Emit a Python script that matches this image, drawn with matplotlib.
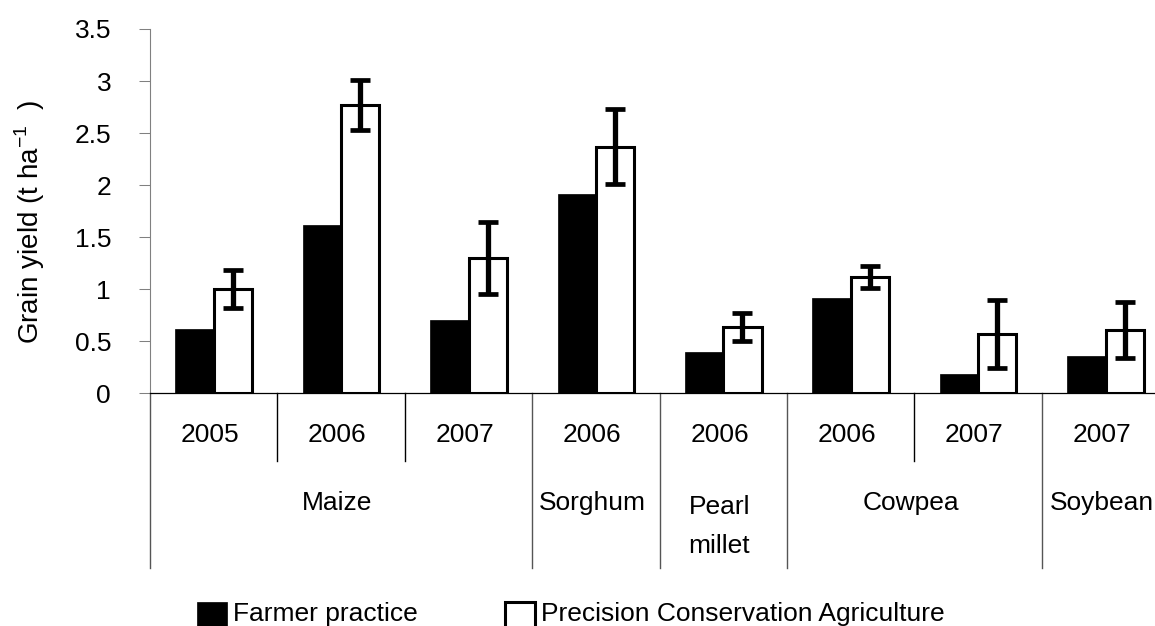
import matplotlib
matplotlib.use('Agg')
import matplotlib.pyplot as plt
import numpy as np
from matplotlib.transforms import blended_transform_factory
from matplotlib.patches import Patch, Rectangle
from matplotlib.legend_handler import HandlerPatch

plt.rcParams['font.family'] = ['Liberation Sans', 'DejaVu Sans']
plt.rcParams['mathtext.fontset'] = 'custom'
plt.rcParams['mathtext.rm'] = 'Liberation Sans'

# ---------------- data ----------------
years = ['2005', '2006', '2007', '2006', '2006', '2006', '2007', '2007']
crops = ['Maize', 'Sorghum', 'Pearl\nmillet', 'Cowpea', 'Soybean']
crop_counts = [3, 1, 1, 2, 1]
farmer = [0.62, 1.62, 0.70, 1.91, 0.40, 0.92, 0.19, 0.36]
pca = [1.00, 2.77, 1.30, 2.37, 0.64, 1.12, 0.57, 0.61]
pca_err = [0.18, 0.24, 0.35, 0.36, 0.135, 0.105, 0.33, 0.27]
series_labels = ['Farmer practice', 'Precision Conservation Agriculture']
y_ticks = [0, 0.5, 1, 1.5, 2, 2.5, 3, 3.5]

# ---------------- figure ----------------
W, H = 1155, 626
FS = 19
fig = plt.figure(figsize=(W / 100, H / 100), dpi=100)
ax = fig.add_axes([150 / W, (H - 393.3) / H, 8 * 127.4 / W, 364.3 / H])

x = np.arange(len(years))
bw = 0.30
ax.bar(x - bw / 2, farmer, bw, color='black', edgecolor='black', linewidth=0.5)
ax.bar(x + bw / 2, pca, bw, color='white', edgecolor='black', linewidth=2.2)
ax.errorbar(x + bw / 2, pca, yerr=pca_err, fmt='none', ecolor='black',
            elinewidth=3.8, capsize=7, capthick=3.4)

ax.set_xlim(-0.5, len(years) - 0.5)
ax.set_ylim(0, 3.5)
ax.set_yticks(y_ticks)
ax.set_yticklabels([f'{v:g}' for v in y_ticks])
ax.set_xticks([])
ax.tick_params(axis='y', direction='out', length=8, width=0.75,
               color='#808080', labelsize=FS, pad=20)
for s in ['top', 'right']:
    ax.spines[s].set_visible(False)
ax.spines['left'].set_color('#808080')
ax.spines['left'].set_linewidth(0.8)
ax.spines['bottom'].set_color('black')
ax.spines['bottom'].set_linewidth(0.9)

# ---------------- multi-level category labels ----------------
tr = blended_transform_factory(ax.transData, ax.transAxes)
y_short = (393.3 - 461) / 364.3
y_long = (393.3 - 568.3) / 364.3
y_year = (393.3 - 435) / 364.3
y_crop = (393.3 - 503.3) / 364.3
y_crop2 = (393.3 - 526.5) / 364.3
shift = -0.03

crop_starts = np.concatenate([[0], np.cumsum(crop_counts)])
for i in range(len(years) + 1):
    b = i - 0.5
    if i in crop_starts:
        ax.plot([b, b], [0, y_long], transform=tr, clip_on=False,
                color='#555555', lw=1.0)
    else:
        ax.plot([b, b], [0, y_short], transform=tr, clip_on=False,
                color='black', lw=1.0)

for i, yr in enumerate(years):
    ax.text(i + shift, y_year, yr, transform=tr, ha='center', va='center',
            fontsize=FS)

for k, crop in enumerate(crops):
    c = (crop_starts[k] + crop_starts[k + 1] - 1) / 2 + shift
    yy = y_crop2 if '\n' in crop else y_crop
    ax.text(c, yy, crop, transform=tr, ha='center', va='center',
            fontsize=FS, linespacing=1.8)

# ---------------- axis label ----------------
fig.text(30 / W, 1 - 222 / H, 'Grain yield (t ha$^{\\mathregular{-1}}$  )',
         rotation=90, ha='center', va='center', fontsize=20)

# ---------------- legend ----------------
def tall_patch(legend, orig_handle, xdescent, ydescent, width, height, fontsize):
    extra = 8.0
    return Rectangle((-xdescent, -ydescent - extra), width, height + extra)

handles = [Patch(facecolor='black', edgecolor='black', linewidth=0.5),
           Patch(facecolor='white', edgecolor='black', linewidth=2.2)]
fig.legend(handles, series_labels, ncol=2, frameon=False, fontsize=FS,
           loc='upper left', bbox_to_anchor=(197 / W, (H - 602) / H),
           borderpad=0, borderaxespad=0, handlelength=1.15, handleheight=0.76,
           handletextpad=0.22, columnspacing=3.3,
           handler_map={Patch: HandlerPatch(patch_func=tall_patch)})

fig.savefig('out.png', dpi=100)
